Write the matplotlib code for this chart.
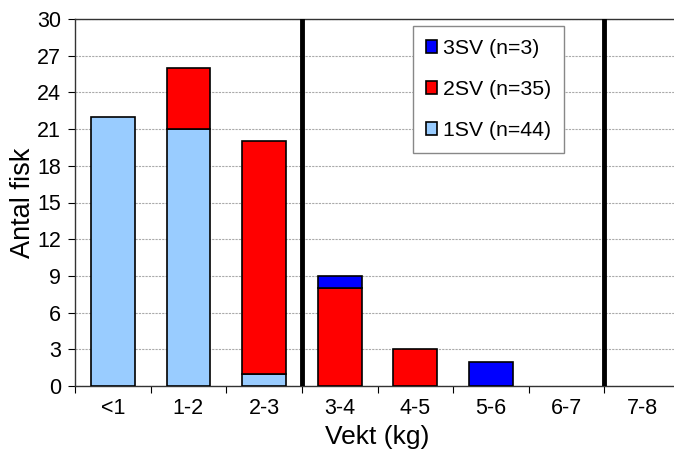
import numpy as np
import matplotlib.pyplot as plt

plt.rcParams['font.family'] = ['Liberation Sans', 'DejaVu Sans']

categories = ['<1', '1-2', '2-3', '3-4', '4-5', '5-6', '6-7', '7-8']
sv1 = [22, 21, 1, 0, 0, 0, 0, 0]
sv2 = [0, 5, 19, 8, 3, 0, 0, 0]
sv3 = [0, 0, 0, 1, 0, 2, 0, 0]
labels = ['1SV (n=44)', '2SV (n=35)', '3SV (n=3)']
colors = ['#99ccff', '#ff0000', '#0000ff']
dividers = [3, 7]

fig = plt.figure(figsize=(6.74, 4.55), dpi=100)
ax = fig.add_axes([75 / 674, 1 - 386 / 455, 605 / 674, 367 / 455])

x = np.arange(len(categories)) + 0.5
s1 = np.array(sv1)
s2 = np.array(sv2)
s3 = np.array(sv3)
bottom = np.zeros(len(categories))
for vals, col, lab in zip([s1, s2, s3], colors, labels):
    ax.bar(x, np.where(vals > 0, vals, np.nan), width=0.58, bottom=bottom,
           color=col, edgecolor='black', linewidth=1.2, label=lab, zorder=3)
    bottom = bottom + vals

for d in dividers:
    ax.axvline(d, color='black', linewidth=3.5, zorder=4)

ax.set_xlim(0, len(categories))
ax.set_ylim(0, 30)
ax.set_yticks(range(0, 31, 3))
ax.set_xticks(range(0, len(categories) + 1))
ax.set_xticklabels([])
ax.set_xticks(x, minor=True)
ax.set_xticklabels(categories, minor=True)
ax.tick_params(axis='x', which='minor', length=0, pad=9, labelsize=15.5)
ax.tick_params(axis='x', which='major', length=5, direction='out')
ax.tick_params(axis='y', labelsize=15.5, length=5, direction='out', pad=5)
ax.yaxis.grid(True, color='#aaaaaa', linestyle=(0, (2, 1)), linewidth=0.8, zorder=0)
ax.spines['right'].set_visible(False)
for s in ['left', 'bottom', 'top']:
    ax.spines[s].set_color('#333333')
    ax.spines[s].set_linewidth(1.0)

ax.set_ylabel('Antal fisk', fontsize=19.5)
ax.yaxis.set_label_coords(-0.064, 0.5)
ax.set_xlabel('Vekt (kg)', fontsize=19, labelpad=4)

h, l = ax.get_legend_handles_labels()
leg = ax.legend(h[::-1], l[::-1], loc='upper left', bbox_to_anchor=(338 / 605, 360 / 367),
                borderaxespad=0, fontsize=15.3, frameon=True, fancybox=False, framealpha=1,
                edgecolor='#888888', handlelength=0.55, handleheight=0.55,
                handletextpad=0.25, labelspacing=1.05, borderpad=0.6)
leg.set_zorder(5)

fig.savefig('out.png', dpi=100)
